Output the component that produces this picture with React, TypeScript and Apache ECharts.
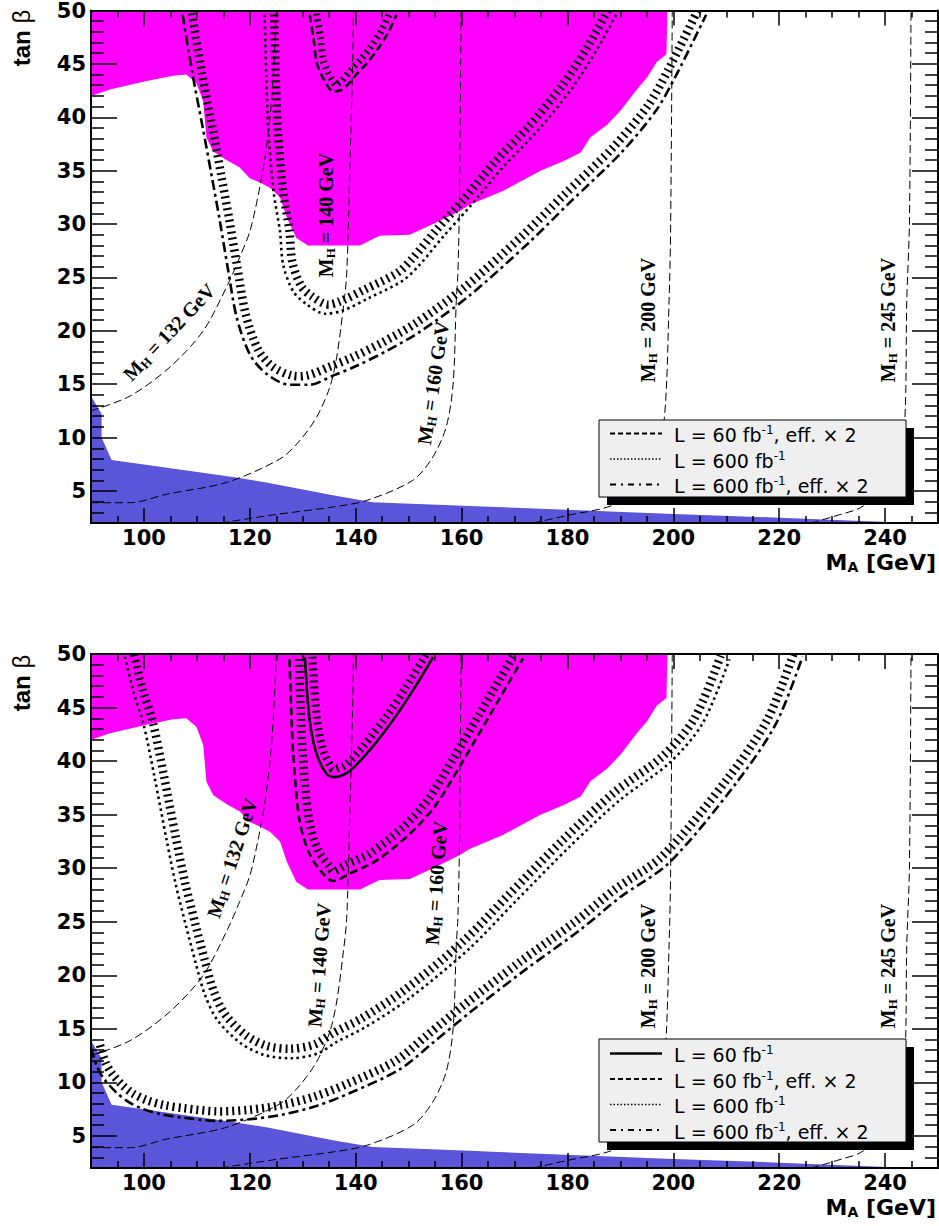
import React, { useEffect, useRef } from 'react';
import * as echarts from 'echarts';

// ---------- axis ticks ----------
const X_MAJOR = [100, 120, 140, 160, 180, 200, 220, 240];
const X_MINOR = [95, 105, 110, 115, 125, 130, 135, 145, 150, 155, 165, 170, 175, 185, 190, 195, 205, 210, 215, 225, 230, 235, 245];
const Y_MAJOR = [5, 10, 15, 20, 25, 30, 35, 40, 45, 50];
const Y_MINOR = [2, 3, 4, 6, 7, 8, 9, 11, 12, 13, 14, 16, 17, 18, 19, 21, 22, 23, 24, 26, 27, 28, 29, 31, 32, 33, 34, 36, 37, 38, 39, 41, 42, 43, 44, 46, 47, 48, 49];

// ---------- excluded regions ----------
const magentaEdge = [[90, 42.0], [93.6, 42.6], [100.5, 43.4], [105.5, 43.9], [108, 44.0], [109.9, 43.2], [111.2, 41.5], [111.8, 38.1], [113.1, 36.8], [115.6, 36.0], [118.1, 35.3], [120, 34.3], [121.9, 33.9], [123.8, 33.4], [125.7, 32.5], [127, 30.6], [128.8, 28.7], [131, 28.0], [140.8, 28.0], [144.5, 28.9], [150.2, 29.0], [154.6, 30.0], [159.6, 31.2], [161.5, 31.8], [167.8, 33.1], [174.9, 35.0], [179.3, 35.9], [182.5, 36.7], [184.3, 38.1], [187.5, 39.3], [190, 40.6], [193.1, 42.6], [195, 43.7], [196.9, 45.2], [198.7, 45.9], [198.9, 50]];
const blueEdge = [[90, 13.9], [92, 12.2], [92, 10.0], [93.9, 7.9], [116.8, 6.3], [123.1, 5.8], [135.7, 4.6], [143.2, 3.95], [161.5, 3.6], [200, 2.85], [220, 2.5], [245.2, 2.0]];

// ---------- M_H iso-contours ----------
const mh132 = [[90, 12.5], [97.4, 13.9], [104.9, 16.6], [111.2, 20.0], [115.9, 24.4], [118.1, 26.9], [120, 29.3], [121.5, 32.5], [122.8, 36], [123.8, 39.9], [124.5, 44.5], [125, 50]];
const mh140 = [[90, 3.9], [97.4, 3.9], [104.3, 4.7], [115.6, 5.8], [125.7, 8.0], [129.4, 9.7], [132.6, 11.9], [135.1, 14.7], [136.4, 17.5], [137.6, 21.9], [138.3, 25.3], [138.9, 35.3], [139.4, 44.6], [139.6, 50]];
const mh160 = [[114.5, 2.0], [125, 2.8], [135.7, 3.5], [142, 4.1], [150.8, 6.0], [154.6, 8.2], [157.1, 11.0], [158.4, 15.0], [159, 22.8], [159.3, 25.3], [159.6, 32.1], [159.9, 50]];
const mh200 = [[173.5, 2.0], [179.9, 2.7], [188.7, 3.7], [193, 5.5], [196.5, 8.5], [198.3, 11.8], [199.2, 22.8], [199.5, 30], [199.8, 50]];
const mh245 = [[226, 2.0], [230.9, 2.7], [235.9, 3.6], [240, 6], [242.5, 9], [243.7, 11.4], [244.1, 22.8], [244.6, 30], [244.9, 50]];

// ---------- discovery contours, upper panel ----------
const p1Dashed = [[131.3, 49.6], [132, 47.5], [132.6, 45.2], [133.5, 44.0], [134.5, 43.1], [135.7, 42.4], [137, 42.5], [138.2, 42.9], [140.1, 44.0], [142, 45.0], [143.9, 46.2], [146, 47.8], [147.7, 49.6]];
const p1Dotted = [[122.8, 49.6], [123.1, 44], [123.5, 38.8], [124.5, 33], [125.7, 29.3], [126.3, 26.2], [128.2, 23.7], [130.7, 22.5], [134.2, 21.6], [137.6, 21.9], [142.6, 23.1], [148.9, 24.7], [152.1, 26.2], [156.5, 28.8], [161.5, 31.6], [167.8, 35.3], [174.1, 38.6], [180.4, 42.4], [185.4, 46.2], [189.2, 49.6]];
const p1DashDot = [[107.3, 49.6], [109.2, 44], [111.2, 38.8], [112.8, 34.5], [114.3, 30.4], [115.9, 25.7], [117.5, 21.3], [120, 17.8], [123.2, 15.95], [127.5, 14.95], [131.3, 14.95], [135.7, 15.8], [140.1, 16.7], [145.8, 18.1], [152.1, 19.9], [161.5, 23.3], [172.8, 28.3], [180.4, 32.0], [190, 36.6], [196.7, 40.6], [200.5, 43.9], [206.2, 49.6]];

// ---------- discovery contours, lower panel ----------
const p2Solid = [[130.4, 49.7], [131.3, 43.8], [132.6, 40.7], [134.5, 38.8], [136, 38.5], [138.9, 39.1], [142.6, 41.0], [147, 43.8], [150.8, 46.6], [154.6, 49.7]];
const p2Dashed = [[127.5, 49.5], [127.8, 45], [128.2, 40.7], [129.4, 34.4], [131.3, 31.3], [133.8, 29.5], [135.7, 28.8], [138.9, 29.5], [143.9, 30.7], [150.2, 33.2], [155, 35.8], [160, 39.8], [165, 44.0], [169, 47.4], [171.6, 49.6]];
const p2Dotted = [[96.4, 49.75], [98, 46.5], [99.9, 43.5], [102, 38.5], [104.3, 32.6], [106, 28.5], [108, 24.5], [109.8, 21.1], [111.5, 18.2], [113.9, 15.8], [118.3, 13.65], [122.7, 12.56], [127.7, 12.25], [132.8, 12.7], [136.5, 13.8], [142, 15.2], [150, 17.8], [161.5, 22.5], [170, 26.8], [180.4, 32.0], [190, 36.4], [199.2, 39.8], [205.5, 43.5], [210.6, 49.5]];
const p2DashDot = [[90, 13.2], [91.1, 11.5], [92.5, 10.3], [94.8, 9.05], [97, 8.2], [99.9, 7.5], [103.5, 7.0], [107.4, 6.7], [113.7, 6.4], [120, 6.55], [126.3, 7.0], [132.6, 7.8], [138.9, 9.0], [148.3, 11.2], [154.6, 13.7], [161.5, 16.5], [172, 20.5], [182.3, 24.2], [190, 27.3], [199.2, 30.5], [211.8, 37.9], [219.4, 43.5], [224.4, 49.75]];

// ---------- texts ----------
const LEGEND1 = ['{n|L = 60 fb}{s|-1}{n|, eff. × 2}', '{n|L = 600 fb}{s|-1}', '{n|L = 600 fb}{s|-1}{n|, eff. × 2}'];
const LEGEND2 = ['{n|L = 60 fb}{s|-1}', '{n|L = 60 fb}{s|-1}{n|, eff. × 2}', '{n|L = 600 fb}{s|-1}', '{n|L = 600 fb}{s|-1}{n|, eff. × 2}'];
const MH_NAMES = ['132', '140', '160', '200', '245'];

const DASH = [8, 4];
const DOT = [2.5, 3.5];
const DASHDOT = [10, 4, 3, 4];

function offsetPts(pts: number[][], d: number): number[][] {
  const n = pts.length;
  return pts.map((p, i) => {
    const a = pts[Math.max(0, i - 1)];
    const b = pts[Math.min(n - 1, i + 1)];
    let tx = b[0] - a[0];
    let ty = b[1] - a[1];
    const L = Math.hypot(tx, ty) || 1;
    tx /= L;
    ty /= L;
    return [p[0] + ty * d, p[1] - tx * d];
  });
}

function hatch(data: number[][], g: number, off = 9.5, w = 8.5) {
  return {
    type: 'custom',
    xAxisIndex: g * 4,
    yAxisIndex: g * 4,
    data,
    clip: true,
    silent: true,
    z: 3,
    renderItem: (params: any, api: any) => {
      if (params.dataIndex !== 0) return null;
      const pts = data.map((d) => api.coord(d));
      return {
        type: 'polyline',
        shape: { points: offsetPts(pts, off), smooth: 0.3 },
        style: { stroke: '#000', lineWidth: w, lineDash: [2, 4], fill: null },
      };
    },
  };
}

function curve(data: number[][], g: number, dash: any, width = 2.6) {
  return {
    type: 'line',
    xAxisIndex: g * 4,
    yAxisIndex: g * 4,
    data,
    showSymbol: false,
    smooth: 0.3,
    silent: true,
    z: 4,
    lineStyle: { color: '#000', width, type: dash },
  };
}

function axesFor(g: number) {
  const tickStyle = { color: '#000', width: 1.5 };
  const lineStyle = { color: '#000', width: 2 };
  const label = { fontFamily: 'DejaVu Sans', fontWeight: 'bold', fontSize: 21, color: '#000' };
  const cx = { type: 'value', gridIndex: g, min: 90, max: 250, splitLine: { show: false }, z: 10 };
  const cy = { type: 'value', gridIndex: g, min: 2, max: 50, splitLine: { show: false }, z: 10 };
  const x = [
    { ...cx, position: 'bottom', axisLine: { show: true, onZero: false, lineStyle }, axisTick: { show: true, inside: true, length: 15, customValues: X_MAJOR, lineStyle: tickStyle }, axisLabel: { show: true, customValues: X_MAJOR, margin: 4, ...label } },
    { ...cx, position: 'bottom', axisLine: { show: false, onZero: false }, axisTick: { show: true, inside: true, length: 7, customValues: X_MINOR, lineStyle: tickStyle }, axisLabel: { show: false } },
    { ...cx, position: 'top', axisLine: { show: true, onZero: false, lineStyle }, axisTick: { show: true, inside: true, length: 15, customValues: X_MAJOR, lineStyle: tickStyle }, axisLabel: { show: false } },
    { ...cx, position: 'top', axisLine: { show: false, onZero: false }, axisTick: { show: true, inside: true, length: 7, customValues: X_MINOR, lineStyle: tickStyle }, axisLabel: { show: false } },
  ];
  const y = [
    { ...cy, position: 'left', axisLine: { show: true, onZero: false, lineStyle }, axisTick: { show: true, inside: true, length: 26, customValues: Y_MAJOR, lineStyle: tickStyle }, axisLabel: { show: true, customValues: Y_MAJOR, margin: 5, ...label } },
    { ...cy, position: 'left', axisLine: { show: false, onZero: false }, axisTick: { show: true, inside: true, length: 13, customValues: Y_MINOR, lineStyle: tickStyle }, axisLabel: { show: false } },
    { ...cy, position: 'right', axisLine: { show: true, onZero: false, lineStyle }, axisTick: { show: true, inside: true, length: 26, customValues: Y_MAJOR, lineStyle: tickStyle }, axisLabel: { show: false } },
    { ...cy, position: 'right', axisLine: { show: false, onZero: false }, axisTick: { show: true, inside: true, length: 13, customValues: Y_MINOR, lineStyle: tickStyle }, axisLabel: { show: false } },
  ];
  return { x, y };
}

function background(g: number) {
  const base = { type: 'line', xAxisIndex: g * 4, yAxisIndex: g * 4, showSymbol: false, silent: true, z: 1, lineStyle: { width: 0 } };
  const contours = [mh132, mh140, mh160, mh200, mh245].map((d) => ({
    type: 'line', xAxisIndex: g * 4, yAxisIndex: g * 4, data: d, showSymbol: false, silent: true, z: 2, smooth: 0.3,
    lineStyle: { color: '#000', width: 1, type: [8, 4] },
  }));
  return [
    { ...base, data: magentaEdge, areaStyle: { color: '#ff00ff', opacity: 1, origin: 'end' } },
    { ...base, data: blueEdge, areaStyle: { color: '#5a55d9', opacity: 1, origin: 'start' } },
    ...contours,
  ];
}

const serifRich = {
  m: { fontFamily: 'Liberation Serif', fontWeight: 'bold', fontSize: 20, lineHeight: 22, fill: '#000' },
  s: { fontFamily: 'Liberation Serif', fontWeight: 'bold', fontSize: 13, lineHeight: 8, verticalAlign: 'bottom', fill: '#000' },
};

function mhLabel(name: string, x: number, y: number, deg: number) {
  return {
    type: 'text', x, y, rotation: (deg * Math.PI) / 180, z: 60, silent: true,
    style: { text: `{m|M}{s|H}{m| = ${name} GeV}`, rich: serifRich, align: 'center', verticalAlign: 'middle', fill: '#000' },
  };
}

const legRich = {
  n: { fontFamily: 'DejaVu Sans', fontSize: 19, lineHeight: 22, fill: '#000' },
  s: { fontFamily: 'DejaVu Sans', fontSize: 12, lineHeight: 12, verticalAlign: 'top', fill: '#000' },
};

function legend(top: number, h: number, rows: { dash: any; width: number; label: string }[], rowY0: number, step: number) {
  const els: any[] = [
    { type: 'rect', shape: { x: 607, y: top + 8, width: 307, height: h }, style: { fill: '#000' }, z: 100, silent: true },
    { type: 'rect', shape: { x: 599, y: top, width: 307, height: h }, style: { fill: '#efefef', stroke: '#000', lineWidth: 1 }, z: 101, silent: true },
  ];
  rows.forEach((r, i) => {
    const yy = rowY0 + i * step;
    els.push({ type: 'line', shape: { x1: 610, y1: yy - 1.5, x2: 662, y2: yy - 1.5 }, style: { stroke: '#000', lineWidth: r.width, lineDash: r.dash }, z: 102, silent: true });
    els.push({ type: 'text', x: 674, y: yy, z: 102, silent: true, style: { text: r.label, rich: legRich, align: 'left', verticalAlign: 'middle', fill: '#000' } });
  });
  return els;
}

function titles(axisY: number, topY: number) {
  return [
    {
      type: 'text', x: 21, y: topY + 29, rotation: Math.PI / 2, z: 60, silent: true,
      style: {
        text: '{a|tan }{b|β}', align: 'center', verticalAlign: 'middle',
        rich: { a: { fontFamily: 'Liberation Sans', fontWeight: 'bold', fontSize: 24, fill: '#000' }, b: { fontFamily: 'Liberation Sans', fontSize: 24, fill: '#000' } },
      },
    },
    {
      type: 'text', x: 936, y: axisY + 39, z: 60, silent: true,
      style: {
        text: '{a|M}{s|A}{a| [GeV]}', align: 'right', verticalAlign: 'middle',
        rich: {
          a: { fontFamily: 'DejaVu Sans', fontWeight: 'bold', fontSize: 22, lineHeight: 24, fill: '#000' },
          s: { fontFamily: 'DejaVu Sans', fontWeight: 'bold', fontSize: 14, lineHeight: 8, verticalAlign: 'bottom', fill: '#000' },
        },
      },
    },
  ];
}

function buildOption() {
  const a0 = axesFor(0);
  const a1 = axesFor(1);
  const series: any[] = [
    ...background(0),
    hatch(p1Dashed, 0, 7, 7), curve(p1Dashed, 0, DASH),
    hatch(p1Dotted, 0), curve(p1Dotted, 0, DOT),
    hatch(p1DashDot, 0), curve(p1DashDot, 0, DASHDOT),
    ...background(1),
    hatch(p2Solid, 1, 7.5, 8), curve(p2Solid, 1, 'solid'),
    hatch(p2Dashed, 1), curve(p2Dashed, 1, DASH),
    hatch(p2Dotted, 1), curve(p2Dotted, 1, DOT),
    hatch(p2DashDot, 1), curve(p2DashDot, 1, DASHDOT),
  ];
  const graphic: any[] = [
    mhLabel(MH_NAMES[0], 169, 332, 47),
    mhLabel(MH_NAMES[1], 326, 215, 90),
    mhLabel(MH_NAMES[2], 433, 383, 81.5),
    mhLabel(MH_NAMES[3], 648, 320, 90),
    mhLabel(MH_NAMES[4], 888, 320, 90),
    mhLabel(MH_NAMES[0], 232, 858, 72),
    mhLabel(MH_NAMES[1], 319, 965, 85.5),
    mhLabel(MH_NAMES[2], 436, 883, 86),
    mhLabel(MH_NAMES[3], 648, 966, 90),
    mhLabel(MH_NAMES[4], 888, 966, 90),
    ...titles(523, 9),
    ...titles(1168, 654),
    ...legend(420, 77, [
      { dash: [5, 3], width: 2, label: LEGEND1[0] },
      { dash: [1.5, 2], width: 1.5, label: LEGEND1[1] },
      { dash: [6, 5, 2, 5], width: 2, label: LEGEND1[2] },
    ], 435, 25.5),
    ...legend(1039, 103, [
      { dash: null, width: 2.5, label: LEGEND2[0] },
      { dash: [5, 3], width: 2, label: LEGEND2[1] },
      { dash: [1.5, 2], width: 1.5, label: LEGEND2[2] },
      { dash: [6, 5, 2, 5], width: 2, label: LEGEND2[3] },
    ], 1055, 25.5),
  ];
  return {
    animation: false,
    backgroundColor: '#ffffff',
    grid: [
      { left: 91, top: 9, width: 847, height: 514, containLabel: false },
      { left: 91, top: 654, width: 847, height: 514, containLabel: false },
    ],
    xAxis: [...a0.x, ...a1.x],
    yAxis: [...a0.y, ...a1.y],
    series,
    graphic,
  };
}

export default function App() {
  const ref = useRef<HTMLDivElement>(null);
  useEffect(() => {
    const chart = echarts.init(ref.current as HTMLDivElement, null, { renderer: 'svg' });
    chart.setOption(buildOption() as any);
    return () => chart.dispose();
  }, []);
  return <div ref={ref} style={{ position: 'absolute', left: 0, top: 0, width: 939, height: 1226, background: '#fff' }} />;
}
